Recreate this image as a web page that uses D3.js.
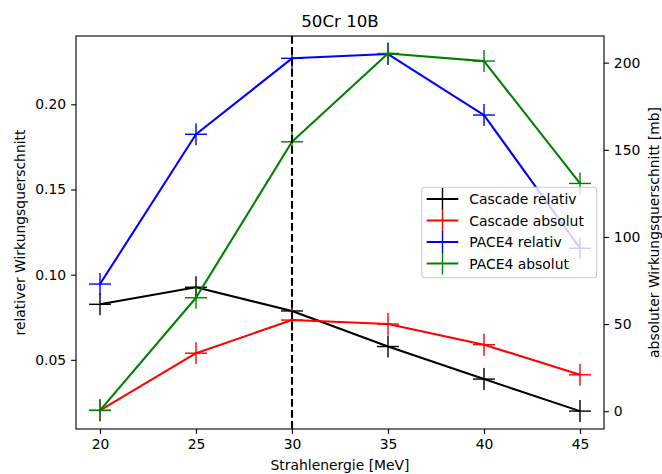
<!DOCTYPE html>
<html>
<head>
<meta charset="utf-8">
<script src="https://cdn.jsdelivr.net/npm/d3@7"></script>
<style>
  body { margin: 0; background: #fff; }
  svg { display: block; font-family: "DejaVu Sans", sans-serif; }
</style>
</head>
<body>
<svg width="662" height="474"></svg>
<script>
// energies in MeV
var energies = [20, 25, 30, 35, 40, 45];

// left axis (relative)
var cascadeRel = [0.0826, 0.0926, 0.0787, 0.0578, 0.0387, 0.0199];
var paceRel = [0.0945, 0.1824, 0.2270, 0.2295, 0.1937, 0.1155];

// right axis (absolute, mb)
var cascadeAbs = [0.5, 33.3, 52.3, 50.0, 38.2, 20.9];
var paceAbs = [0.5, 65.1, 154.6, 205.3, 200.9, 130.7];

var xTicks = [20, 25, 30, 35, 40, 45];
var leftTicks = [0.05, 0.10, 0.15, 0.20];
var rightTicks = [0, 50, 100, 150, 200];
var markerLine = 30;

var svg = d3.select("svg"),
    margin = {top: 36, right: 58, bottom: 45, left: 76},
    width = +svg.attr("width"),
    height = +svg.attr("height"),
    x0 = margin.left, x1 = width - margin.right,
    y0 = margin.top, y1 = height - margin.bottom;

var x = d3.scaleLinear().domain([18.75, 46.25]).range([x0, x1]);
var yL = d3.scaleLinear().domain([0.0094, 0.2401]).range([y1, y0]);
var yR = d3.scaleLinear().domain([-10.2, 215.3]).range([y1, y0]);

var series = [
  {name: "Cascade relativ", values: cascadeRel, y: yL, color: "#000000"},
  {name: "Cascade absolut", values: cascadeAbs, y: yR, color: "#ff0000"},
  {name: "PACE4 relativ", values: paceRel, y: yL, color: "#0000ff"},
  {name: "PACE4 absolut", values: paceAbs, y: yR, color: "#008000"}
];
// draw order like the twin axes: left series first, then right ones
var drawOrder = [series[0], series[2], series[1], series[3]];

var plot = svg.append("g");
var arm = 11;

drawOrder.forEach(function(s) {
  var pts = energies.map(function(e, i) { return [x(e), s.y(s.values[i])]; });
  var g = plot.append("g");
  g.append("path")
      .attr("d", d3.line()(pts))
      .attr("fill", "none")
      .attr("stroke", s.color)
      .attr("stroke-width", 2.08)
      .attr("stroke-linejoin", "round");
  var m = g.selectAll(".m").data(pts).enter().append("g");
  m.append("line")
      .attr("x1", function(d) { return d[0] - arm; })
      .attr("x2", function(d) { return d[0] + arm; })
      .attr("y1", function(d) { return d[1]; })
      .attr("y2", function(d) { return d[1]; });
  m.append("line")
      .attr("x1", function(d) { return d[0]; })
      .attr("x2", function(d) { return d[0]; })
      .attr("y1", function(d) { return d[1] - arm; })
      .attr("y2", function(d) { return d[1] + arm; });
  m.selectAll("line").attr("stroke", s.color).attr("stroke-width", 1.4);
});

// dashed marker at 30 MeV
plot.append("line")
    .attr("x1", x(markerLine)).attr("x2", x(markerLine))
    .attr("y1", y0).attr("y2", y1)
    .attr("stroke", "#000")
    .attr("stroke-width", 2.08)
    .attr("stroke-dasharray", "7.7,3.3");

// axes
var xAxis = svg.append("g")
    .attr("transform", "translate(0," + y1 + ")")
    .call(d3.axisBottom(x).tickValues(xTicks).tickSize(4.9).tickPadding(4.9).tickFormat(d3.format("d")));

var leftAxis = svg.append("g")
    .attr("transform", "translate(" + x0 + ",0)")
    .call(d3.axisLeft(yL).tickValues(leftTicks).tickSize(4.9).tickPadding(4.9).tickFormat(d3.format(".2f")));

var rightAxis = svg.append("g")
    .attr("transform", "translate(" + x1 + ",0)")
    .call(d3.axisRight(yR).tickValues(rightTicks).tickSize(4.9).tickPadding(4.9).tickFormat(d3.format("d")));

[xAxis, leftAxis, rightAxis].forEach(function(a) {
  a.select(".domain").remove();
  a.selectAll("line").attr("stroke", "#000").attr("stroke-width", 1.1);
  a.selectAll("text")
      .attr("font-family", "DejaVu Sans, sans-serif")
      .attr("font-size", 13.9)
      .attr("fill", "#000");
});

// frame
svg.append("rect")
    .attr("x", x0).attr("y", y0)
    .attr("width", x1 - x0).attr("height", y1 - y0)
    .attr("fill", "none")
    .attr("stroke", "#000")
    .attr("stroke-width", 1.1);

// title and labels
svg.append("text")
    .attr("x", (x0 + x1) / 2).attr("y", 26.7)
    .attr("text-anchor", "middle")
    .attr("font-size", 16.67)
    .text("50Cr 10B");

svg.append("text")
    .attr("x", (x0 + x1) / 2).attr("y", 470)
    .attr("text-anchor", "middle")
    .attr("font-size", 13.9)
    .text("Strahlenergie [MeV]");

svg.append("text")
    .attr("transform", "translate(25," + (y0 + y1) / 2 + ") rotate(-90)")
    .attr("text-anchor", "middle")
    .attr("font-size", 13.9)
    .text("relativer Wirkungsquerschnitt");

svg.append("text")
    .attr("transform", "translate(659," + (y0 + y1) / 2 + ") rotate(-90)")
    .attr("text-anchor", "middle")
    .attr("font-size", 13.9)
    .text("absoluter Wirkungsquerschnitt [mb]");

// legend
var legend = svg.append("g");
legend.append("rect")
    .attr("x", 421.7).attr("y", 187.3)
    .attr("width", 175).attr("height", 90.4)
    .attr("rx", 3).attr("ry", 3)
    .attr("fill", "#fff")
    .attr("fill-opacity", 0.8)
    .attr("stroke", "#cccccc")
    .attr("stroke-width", 1.1);

var item = legend.selectAll(".item")
    .data(series)
    .enter().append("g")
      .attr("transform", function(d, i) { return "translate(0," + (199 + i * 21.5) + ")"; });

item.append("line")
    .attr("x1", 426.7).attr("x2", 458.3)
    .attr("y1", 0).attr("y2", 0)
    .attr("stroke", function(d) { return d.color; })
    .attr("stroke-width", 2.08);
item.append("line")
    .attr("x1", 442.5).attr("x2", 442.5)
    .attr("y1", -arm).attr("y2", arm)
    .attr("stroke", function(d) { return d.color; })
    .attr("stroke-width", 1.4);
item.append("text")
    .attr("x", 469.3).attr("y", 0)
    .attr("dy", "0.36em")
    .attr("font-size", 13.9)
    .text(function(d) { return d.name; });
</script>
</body>
</html>
